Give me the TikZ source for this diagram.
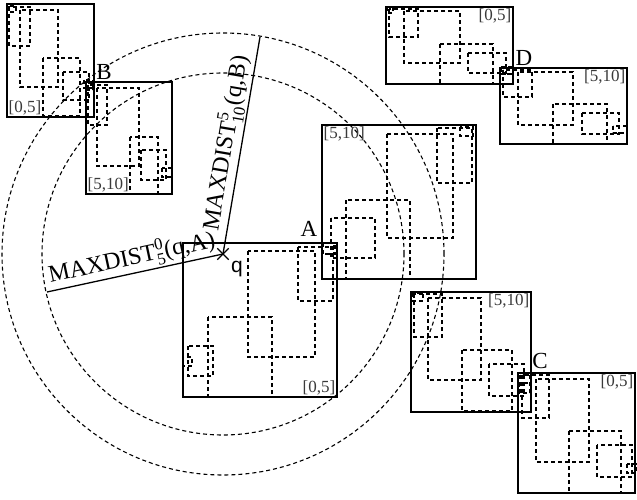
\documentclass[tikz,border=0pt]{standalone}
\usepackage{fontspec}
\usepackage{amsmath}
\setmainfont{Liberation Serif}
\newfontfamily\qfont{Liberation Sans}
\usepackage{tikz}
\usetikzlibrary{shapes.misc}
\definecolor{rangegray}{HTML}{3A3A3A}
\newcommand\distidx[2]{$^{\text{#1}}_{\text{#2}}$}

\tikzset{
  pagebox/.style={draw,line width=1.6pt},
  subbox/.style={draw,line width=1.25pt,dash pattern=on 4pt off 3pt},
  rangecircle/.style={draw,line width=1.1pt,dash pattern=on 4pt off 3pt},
  rangelabel/.style={font=\fontsize{17}{17}\selectfont,text=rangegray,inner sep=1.5pt},
  cornerlabel/.style={font=\fontsize{23}{23}\selectfont,inner sep=0pt},
  distlabel/.style={font=\fontsize{24}{24}\selectfont,inner sep=1.5pt},
  distline/.style={draw,line width=1.3pt}
}

\begin{document}
\begin{tikzpicture}[x=1pt,y=-1pt]
  \useasboundingbox (0,0) rectangle (637,500);

  % query point and its two range circles
  \coordinate (q) at (223,254);
  \draw[rangecircle] (q) circle[radius=181pt];
  \draw[rangecircle] (q) circle[radius=221pt];

  % top-left pair
  \draw[pagebox] (7,4) rectangle (94,117);
  \foreach \xa/\ya/\xb/\yb in {9/6/16/12, 9/7/30/46, 20/10/58/87, 43/58/80/116, 63/72/89/100, 84/80/93/88}
    \draw[subbox] (\xa,\ya) rectangle (\xb,\yb);
  \draw[pagebox] (86,82) rectangle (172,194);
  \foreach \xa/\ya/\xb/\yb in {86/83/93/90, 88/85/107/125, 97/88/139/166, 130/137/158/194, 141/150/166/180, 162/168/172/177}
    \draw[subbox] (\xa,\ya) rectangle (\xb,\yb);
  \node[rangelabel,anchor=south west] (rangeTL) at (7,117) {[0,5]};
  \node[rangelabel,anchor=south west] (rangeB) at (86,194) {[5,10]};
  \node[cornerlabel] (labB) at (104,72) {B};

  % top-right pair
  \draw[pagebox] (386,7) rectangle (513,84);
  \foreach \xa/\ya/\xb/\yb in {387/7/393/13, 389/9/418/37, 404/11/460/63, 440/44/493/84, 468/53/506/73, 500/67/513/74}
    \draw[subbox] (\xa,\ya) rectangle (\xb,\yb);
  \draw[pagebox] (500,68) rectangle (627,144);
  \foreach \xa/\ya/\xb/\yb in {501/68/513/74, 503/70/532/97, 518/72/573/125, 553/104/607/144, 582/113/619/134, 613/126/627/133}
    \draw[subbox] (\xa,\ya) rectangle (\xb,\yb);
  \node[rangelabel,anchor=north east] (rangeTR) at (513,7) {[0,5]};
  \node[rangelabel,anchor=north east] (rangeD) at (627,68) {[5,10]};
  \node[cornerlabel] (labD) at (524,58) {D};

  % centre pair
  \draw[pagebox] (322,125) rectangle (476,279);
  \foreach \xa/\ya/\xb/\yb in {460/127/473/136, 437/128/472/183, 387/134/453/238, 346/200/410/279, 331/218/375/258, 322/243/334/254}
    \draw[subbox] (\xa,\ya) rectangle (\xb,\yb);
  \draw[pagebox] (183,243) rectangle (337,397);
  \foreach \xa/\ya/\xb/\yb in {323/243/335/254, 298/247/333/301, 248/251/315/357, 208/317/272/397, 188/346/213/376, 183/357/192/366}
    \draw[subbox] (\xa,\ya) rectangle (\xb,\yb);
  \node[rangelabel,anchor=north west] (rangeCT) at (322,125) {[5,10]};
  \node[rangelabel,anchor=south east] (rangeA) at (337,397) {[0,5]};
  \node[cornerlabel] (labA) at (309,229) {A};

  % bottom-right pair
  \draw[pagebox] (411,292) rectangle (531,412);
  \foreach \xa/\ya/\xb/\yb in {413/293/423/301, 414/294/442/337, 428/298/481/380, 462/350/512/411, 489/364/524/396, 519/383/531/393}
    \draw[subbox] (\xa,\ya) rectangle (\xb,\yb);
  \draw[pagebox] (518,373) rectangle (635,493);
  \foreach \xa/\ya/\xb/\yb in {520/375/530/393, 522/375/549/418, 536/379/589/462, 569/431/621/493, 597/445/632/477, 627/464/637/473}
    \draw[subbox] (\xa,\ya) rectangle (\xb,\yb);
  \node[rangelabel,anchor=north east] (rangeBR) at (531,292) {[5,10]};
  \node[rangelabel,anchor=north east] (rangeC) at (635,373) {[0,5]};
  \node[cornerlabel] (labC) at (540,361) {C};

  % distances from q
  \coordinate (pA) at (47,292);
  \coordinate (pB) at (260,37);
  \node[draw,cross out,minimum size=10pt,inner sep=0pt,line width=1.3pt] (qmark) at (q) {};
  \node[font=\fontsize{21}{21}\qfont] (qlabel) at (237,269) {q};
  \draw[distline] (pA) -- node[distlabel,sloped,above,pos=0.5] (distA) {MAXDIST\distidx{0}{5}(q,A)} (q);
  \draw[distline] (q) -- node[distlabel,sloped,above,pos=0.5] (distB) {MAXDIST\distidx{5}{10}(q,B)} (pB);
\end{tikzpicture}
\end{document}
